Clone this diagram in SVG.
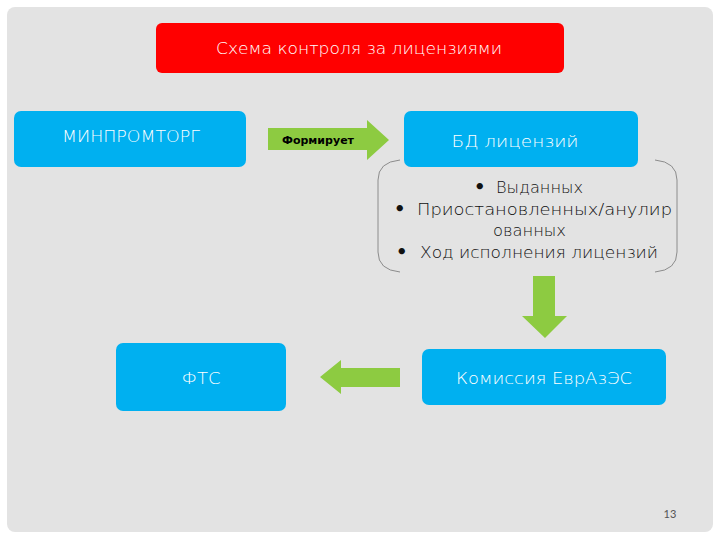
<svg xmlns="http://www.w3.org/2000/svg" width="720" height="540" viewBox="0 0 720 540">
<style>
.box{fill:#00B0F0;}
.lbl{font-family:"DejaVu Sans",Lato,sans-serif;font-weight:200;fill:#FFFFFF;text-anchor:middle;}
.arr{fill:#8DCB41;}
.bt{font-family:"DejaVu Sans",Lato,sans-serif;font-weight:200;fill:#111111;font-size:16px;}
.bu{font-weight:bold;font-size:18px;}
</style>
<rect x="0" y="0" width="720" height="540" fill="#FFFFFF"/>
<rect x="7" y="7" width="706" height="525" rx="8" fill="#E3E3E3"/>
<g id="title">
<rect x="156" y="23" width="408" height="50" rx="6" fill="#FF0000"/>
<text class="lbl" x="359" y="54" font-size="15" textLength="286" lengthAdjust="spacingAndGlyphs">Схема контроля за лицензиями</text>
</g>
<g id="minprom">
<rect class="box" x="14" y="111" width="232" height="56" rx="7"/>
<text class="lbl" x="131" y="142" font-size="15" textLength="138" lengthAdjust="spacingAndGlyphs">МИНПРОМТОРГ</text>
</g>
<g id="bd">
<rect class="box" x="404" y="111" width="234" height="56" rx="7"/>
<text class="lbl" x="515" y="147" font-size="16" textLength="127" lengthAdjust="spacingAndGlyphs">БД лицензий</text>
</g>
<g id="bd-list">
<path d="M400,160 Q378,162 378,180 L378,252 Q378,270 400,272" fill="none" stroke="#8C8C8C" stroke-width="1"/>
<path d="M655,160 Q677,162 677,180 L677,252 Q677,270 655,272" fill="none" stroke="#8C8C8C" stroke-width="1"/>
<text class="bt"><tspan class="bu" x="474" y="193">•</tspan><tspan x="496" y="193" textLength="87" lengthAdjust="spacingAndGlyphs">Выданных</tspan></text>
<text class="bt"><tspan class="bu" x="394" y="215">•</tspan><tspan x="417" y="215" textLength="255" lengthAdjust="spacingAndGlyphs">Приостановленных/анулир</tspan></text>
<text class="bt"><tspan x="493" y="236" textLength="73" lengthAdjust="spacingAndGlyphs">ованных</tspan></text>
<text class="bt"><tspan class="bu" x="396" y="258">•</tspan><tspan x="420" y="258" textLength="238" lengthAdjust="spacingAndGlyphs">Ход исполнения лицензий</tspan></text>
</g>
<g id="komissiya">
<rect class="box" x="422" y="349" width="244" height="56" rx="7"/>
<text class="lbl" x="544" y="384" font-size="16" textLength="176" lengthAdjust="spacingAndGlyphs">Комиссия ЕврАзЭС</text>
</g>
<g id="fts">
<rect class="box" x="116" y="343" width="170" height="68" rx="7"/>
<text class="lbl" x="201" y="384" font-size="16" textLength="39" lengthAdjust="spacingAndGlyphs">ФТС</text>
</g>
<g id="connectors">
<g id="formiruet">
<polygon class="arr" points="268,128 367,128 367,120 389,140 367,160 367,150 268,150"/>
<text x="318" y="144" font-family="'DejaVu Sans',Verdana,sans-serif" font-weight="bold" font-size="11" fill="#000000" text-anchor="middle" textLength="72" lengthAdjust="spacingAndGlyphs">Формирует</text>
</g>
<polygon class="arr" points="533,276 555,276 555,316 567,316 545,338 522,316 533,316"/>
<polygon class="arr" points="400,368 341,368 341,360 320,377 341,394 341,387 400,387"/>
</g>
<text x="670" y="518" font-family="Lato,'Open Sans',sans-serif" font-size="11" fill="#555555" text-anchor="middle">13</text>
</svg>
